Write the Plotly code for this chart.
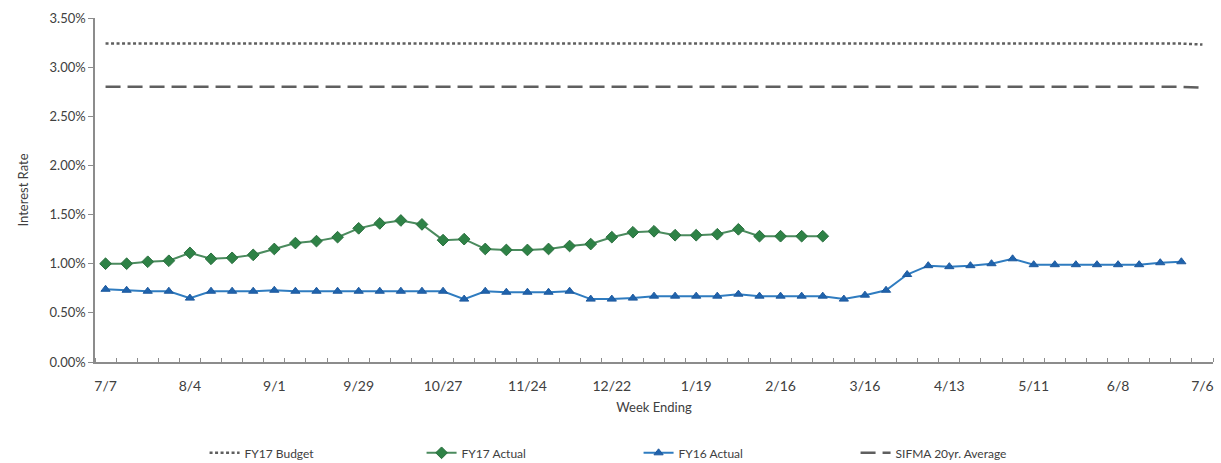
import pandas as pd
import plotly.graph_objects as go

# Week-ending dates for FY17 (7/7/2016 .. 7/6/2017)
week_ending = [f"{d.month}/{d.day}" for d in pd.date_range("2016-07-07", periods=53, freq="7D")]

# Rates in percent
fy17_budget = [
    3.24, 3.24, 3.24, 3.24, 3.24, 3.24, 3.24, 3.24, 3.24, 3.24,
    3.24, 3.24, 3.24, 3.24, 3.24, 3.24, 3.24, 3.24, 3.24, 3.24,
    3.24, 3.24, 3.24, 3.24, 3.24, 3.24, 3.24, 3.24, 3.24, 3.24,
    3.24, 3.24, 3.24, 3.24, 3.24, 3.24, 3.24, 3.24, 3.24, 3.24,
    3.24, 3.24, 3.24, 3.24, 3.24, 3.24, 3.24, 3.24, 3.24, 3.24,
    3.24, 3.24, 3.23,
]
fy17_actual = [
    1.00, 1.00, 1.02, 1.03, 1.11, 1.05, 1.06, 1.09, 1.15, 1.21,
    1.23, 1.27, 1.36, 1.41, 1.44, 1.40, 1.24, 1.25, 1.15, 1.14,
    1.14, 1.15, 1.18, 1.20, 1.27, 1.32, 1.33, 1.29, 1.29, 1.30,
    1.35, 1.28, 1.28, 1.28, 1.28,
]
fy16_actual = [
    0.74, 0.73, 0.72, 0.72, 0.65, 0.72, 0.72, 0.72, 0.73, 0.72,
    0.72, 0.72, 0.72, 0.72, 0.72, 0.72, 0.72, 0.64, 0.72, 0.71,
    0.71, 0.71, 0.72, 0.64, 0.64, 0.65, 0.67, 0.67, 0.67, 0.67,
    0.69, 0.67, 0.67, 0.67, 0.67, 0.64, 0.68, 0.73, 0.89, 0.98,
    0.97, 0.98, 1.00, 1.05, 0.99, 0.99, 0.99, 0.99, 0.99, 0.99,
    1.01, 1.02,
]
sifma_avg = [
    2.80, 2.80, 2.80, 2.80, 2.80, 2.80, 2.80, 2.80, 2.80, 2.80,
    2.80, 2.80, 2.80, 2.80, 2.80, 2.80, 2.80, 2.80, 2.80, 2.80,
    2.80, 2.80, 2.80, 2.80, 2.80, 2.80, 2.80, 2.80, 2.80, 2.80,
    2.80, 2.80, 2.80, 2.80, 2.80, 2.80, 2.80, 2.80, 2.80, 2.80,
    2.80, 2.80, 2.80, 2.80, 2.80, 2.80, 2.80, 2.80, 2.80, 2.80,
    2.80, 2.80, 2.79,
]
y_ticks = [0.0, 0.5, 1.0, 1.5, 2.0, 2.5, 3.0, 3.5]

FONT = "Lato, 'Open Sans', sans-serif"
TEXT = "#404040"
AXIS = "#8c8c8c"


def pct(vals):
    return [v / 100 for v in vals]


def idx(vals):
    return list(range(len(vals)))


fig = go.Figure()
fig.add_trace(go.Scatter(
    x=idx(fy17_budget), y=pct(fy17_budget), name="FY17 Budget", mode="lines",
    line=dict(color="#5f5f5f", width=2.5, dash="3px,2.5px"),
))
fig.add_trace(go.Scatter(
    x=idx(fy17_actual), y=pct(fy17_actual), name="FY17 Actual", mode="lines+markers",
    line=dict(color="#4b8b5e", width=2),
    marker=dict(symbol="diamond", size=9, color="#2e8246", line=dict(color="#2a6f3f", width=1)),
))
fig.add_trace(go.Scatter(
    x=idx(fy16_actual), y=pct(fy16_actual), name="FY16 Actual", mode="lines+markers",
    line=dict(color="#2f7cc0", width=2),
    marker=dict(symbol="triangle-up", size=8, color="#1f63ad", line=dict(color="#1f5a9e", width=1)),
))
fig.add_trace(go.Scatter(
    x=idx(sifma_avg), y=pct(sifma_avg), name="SIFMA 20yr. Average", mode="lines",
    line=dict(color="#5f5f5f", width=2.5, dash="15px,7px"),
))

n = len(week_ending)
fig.update_layout(
    width=1221, height=463,
    margin=dict(l=95, r=8, t=18, b=101),
    paper_bgcolor="white", plot_bgcolor="white",
    font=dict(family=FONT, size=13, color=TEXT),
    xaxis=dict(
        range=[-0.5, n - 0.5],
        tickmode="array",
        tickvals=list(range(0, n, 4)),
        ticktext=week_ending[::4],
        ticks="", showgrid=False, zeroline=False,
        showline=True, linecolor=AXIS, linewidth=1.5,
        tickfont=dict(size=14, color=TEXT),
        ticklabelstandoff=10,
        minor=dict(tickmode="array", tickvals=[i + 0.5 for i in range(-1, n)],
                   ticks="inside", ticklen=4, tickcolor=AXIS, tickwidth=1, showgrid=False),
        title=dict(text="Week Ending", font=dict(size=13, color=TEXT), standoff=10),
    ),
    yaxis=dict(
        range=[0, 0.035],
        tickmode="array", tickvals=pct(y_ticks), tickformat=".2%",
        ticks="outside", ticklen=5, tickcolor=AXIS, tickwidth=1,
        showgrid=False, zeroline=False,
        showline=True, linecolor=AXIS, linewidth=1.5,
        tickfont=dict(size=13, color=TEXT),
        title=dict(text="Interest Rate", font=dict(size=13, color=TEXT), standoff=18),
    ),
    yaxis2=dict(
        overlaying="y", anchor="x", side="left", range=[0, 0.035],
        tickmode="array", tickvals=pct(y_ticks), ticks="inside", ticklen=5,
        tickcolor=AXIS, tickwidth=1, showticklabels=False,
        showgrid=False, zeroline=False, showline=False,
    ),
    legend=dict(
        orientation="h", xref="paper", yref="container",
        x=0.098, y=0.022, xanchor="left", yanchor="middle",
        entrywidth=172, entrywidthmode="pixels",
        font=dict(size=12, color=TEXT), itemwidth=30,
    ),
    showlegend=True,
)

fig.write_html("out.html")
